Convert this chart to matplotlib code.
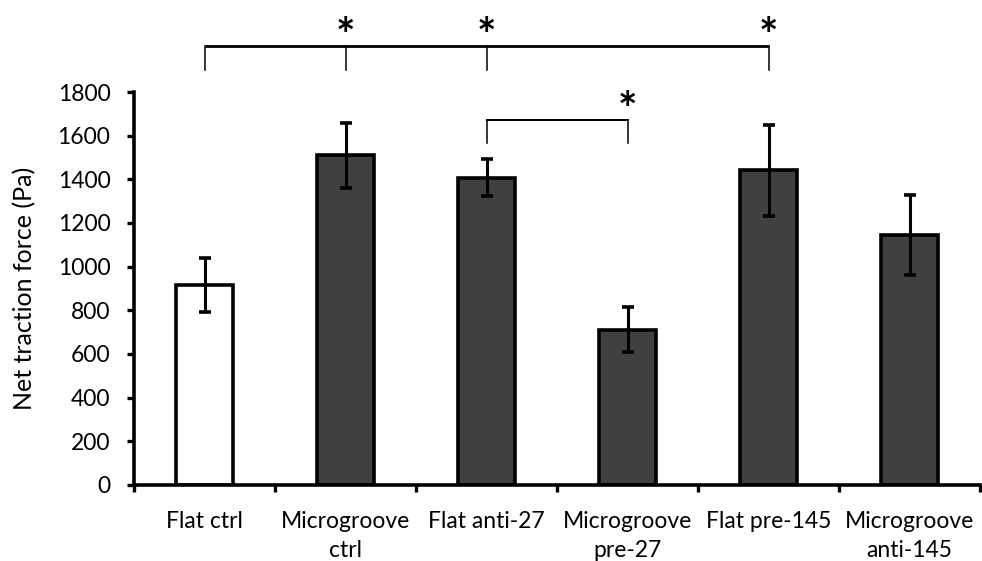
import matplotlib
matplotlib.use("Agg")
import matplotlib.pyplot as plt
import numpy as np

plt.rcParams['font.family'] = ['Lato', 'DejaVu Sans']

categories = ["Flat ctrl", "Microgroove\nctrl", "Flat anti-27", "Microgroove\npre-27",
              "Flat pre-145", "Microgroove\nanti-145"]
means = [916, 1511, 1408, 712, 1441, 1144]
errors = [122, 149, 84, 102, 208, 184]
fill_colors = ["white", "#404040", "#404040", "#404040", "#404040", "#404040"]

# significance brackets
top_bracket = [0, 1, 2, 4]   # shared bracket with legs at these categories
top_stars = [1, 2, 4]
pair_bracket = (2, 3)

FS = 16.5

fig = plt.figure(figsize=(9.82, 5.61), dpi=100)
ax = fig.add_axes([0.1365, 0.1355, 0.8615, 0.7005])

x = np.arange(len(categories))
ax.bar(x, means, width=0.40, color=fill_colors, edgecolor="black", linewidth=2.6, zorder=2)
ax.errorbar(x, means, yerr=errors, fmt="none", ecolor="black", elinewidth=2.2,
            capsize=4.5, capthick=2.6, zorder=3)

ax.set_xlim(-0.5, len(categories) - 0.5)
ax.set_ylim(0, 1800)
ax.set_yticks(np.arange(0, 1801, 200))
ax.set_xticks(x)
ax.set_xticklabels(categories, fontsize=FS, linespacing=1.45)
ax.set_xticks(np.arange(-0.5, len(categories), 1.0), minor=True)
ax.tick_params(axis="x", which="major", length=0, pad=19)
ax.tick_params(axis="x", which="minor", length=5, width=2.4, direction="out")
ax.tick_params(axis="y", length=5, width=2.4, direction="out", labelsize=FS, pad=12)
ax.set_ylabel("Net traction force (Pa)", fontsize=18)
ax.yaxis.label.set_va("center")
ax.yaxis.set_label_coords(-0.129, 0.5)

for side in ["top", "right"]:
    ax.spines[side].set_visible(False)
for side in ["left", "bottom"]:
    ax.spines[side].set_linewidth(2.6)

# long bracket above the plot area
y_top, y_leg = 2012, 1901
ax.plot([x[top_bracket[0]], x[top_bracket[-1]]], [y_top, y_top], color="black",
        linewidth=2.0, clip_on=False, solid_capstyle="butt")
for i in top_bracket:
    ax.plot([x[i], x[i]], [y_top, y_leg], color="black", linewidth=1.1, clip_on=False)
for i in top_stars:
    ax.text(x[i], 1950, "*", ha="center", va="bottom", fontsize=33,
            fontweight="bold", clip_on=False)

# pairwise bracket
a, b = pair_bracket
y_pair, y_pleg = 1672, 1566
ax.plot([x[a], x[b]], [y_pair, y_pair], color="black", linewidth=1.4)
ax.plot([x[a], x[a]], [y_pair, y_pleg], color="black", linewidth=1.1)
ax.plot([x[b], x[b]], [y_pair, y_pleg], color="black", linewidth=1.1)
ax.text(x[b], 1612, "*", ha="center", va="bottom", fontsize=33, fontweight="bold")

fig.savefig("out.png", dpi=100)
